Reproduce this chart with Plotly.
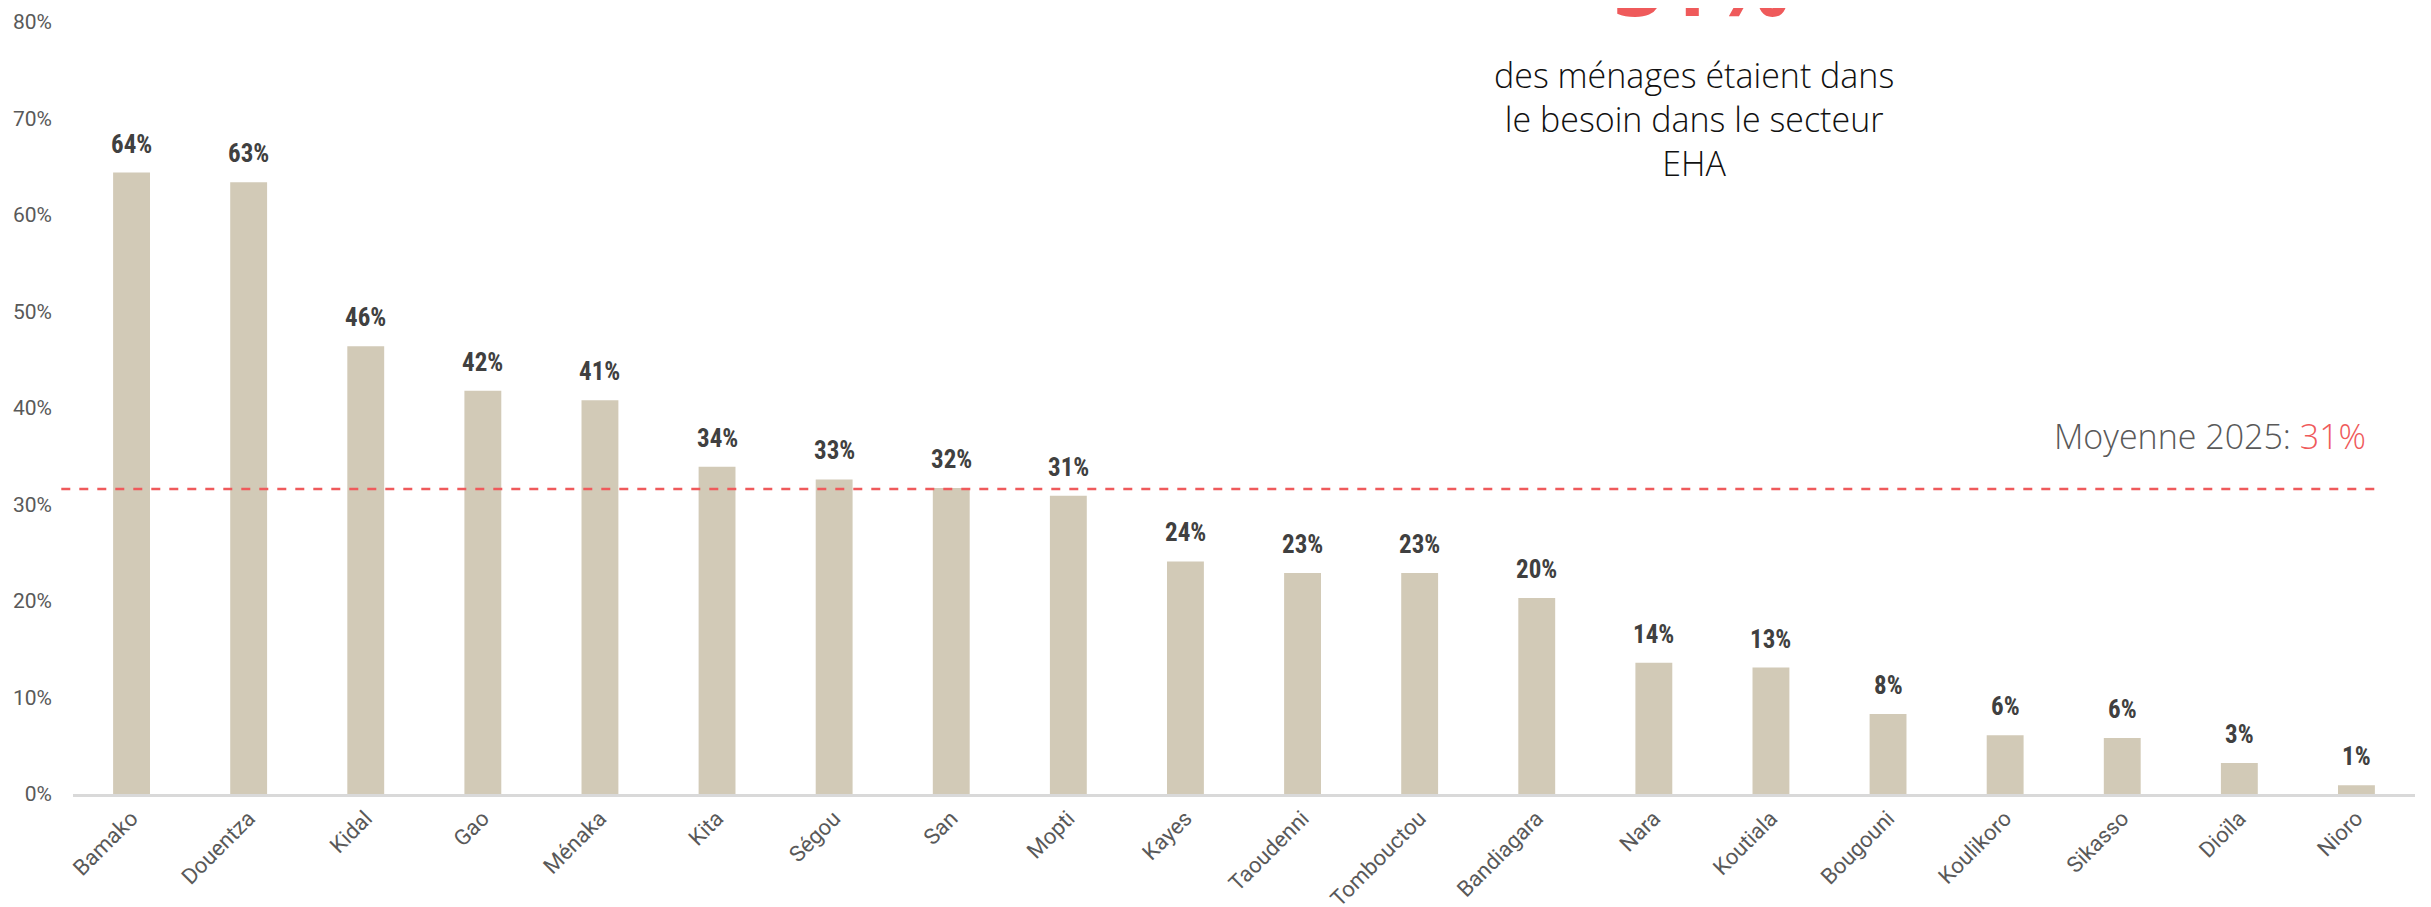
import plotly.graph_objects as go

regions = ["Bamako", "Douentza", "Kidal", "Gao", "Ménaka", "Kita", "Ségou", "San", "Mopti",
           "Kayes", "Taoudenni", "Tombouctou", "Bandiagara", "Nara", "Koutiala", "Bougouni",
           "Koulikoro", "Sikasso", "Dioïla", "Nioro"]
values = [64.4, 63.4, 46.4, 41.8, 40.8, 33.9, 32.6, 31.7, 30.9,
          24.1, 22.9, 22.9, 20.3, 13.6, 13.1, 8.3, 6.1, 5.8, 3.2, 0.9]
labels = ["64%", "63%", "46%", "42%", "41%", "34%", "33%", "32%", "31%",
          "24%", "23%", "23%", "20%", "14%", "13%", "8%", "6%", "6%", "3%", "1%"]
mean_value = 31.6
mean_label = "31%"
y_ticks = [0, 10, 20, 30, 40, 50, 60, 70, 80]
y_ticktext = ["0%", "10%", "20%", "30%", "40%", "50%", "60%", "70%", "80%"]

COND = "Roboto Condensed, Liberation Sans Narrow, DejaVu Sans Condensed, sans-serif"
ROBOTO = "Roboto, sans-serif"
LIGHT = "Open Sans, Segoe UI, Lato, sans-serif"
RED = "#EF5A5B"
BAR = "#D2CAB7"

fig = go.Figure()
fig.add_trace(go.Bar(
    x=regions, y=values, width=0.315,
    marker=dict(color=BAR, line=dict(width=0)),
    hoverinfo="skip",
))

for reg, val, lab in zip(regions, values, labels):
    fig.add_annotation(x=reg, y=val, xref="x", yref="y", text=f"<b>{lab}</b>",
                       showarrow=False, xanchor="center", yanchor="bottom", yshift=12,
                       font=dict(family=COND, size=25, color="#404040"))

fig.add_shape(type="line", xref="paper", yref="y", x0=-0.005, x1=0.985,
              y0=mean_value, y1=mean_value,
              line=dict(color=RED, width=2.5, dash="dash"))

fig.add_annotation(xref="paper", yref="y", x=0.980, y=mean_value + 2.9,
                   xanchor="right", yanchor="bottom", showarrow=False,
                   text=f"Moyenne 2025: <span style='color:{RED}'>{mean_label}</span>",
                   font=dict(family=LIGHT, size=34, color="#595959", weight=300))

fig.add_annotation(xref="paper", yref="paper", x=0.6956, y=0.973, xanchor="center",
                   yanchor="bottom", showarrow=False, text=f"<b>{mean_label}</b>",
                   font=dict(family=LIGHT, size=86, color=RED))

fig.add_annotation(xref="paper", yref="paper", x=0.692, y=0.9637, xanchor="center",
                   yanchor="top", showarrow=False,
                   text="des ménages étaient dans<br>le besoin dans le secteur<br>EHA",
                   font=dict(family=LIGHT, size=34, color="#111111", weight=300))

fig.update_layout(
    width=2431, height=907,
    margin=dict(l=65, r=24, t=14, b=121, autoexpand=False),
    plot_bgcolor="white", paper_bgcolor="white",
    showlegend=False,
    xaxis=dict(showgrid=False, showline=True, linecolor="#D9D9D9", linewidth=2.5,
               automargin=False, tickangle=-45, ticks="",
               tickfont=dict(family=ROBOTO, size=22, color="#595959")),
    yaxis=dict(range=[0, 80], tickvals=y_ticks, ticktext=y_ticktext, showgrid=False,
               automargin=False, zeroline=False, showline=False, ticks="",
               ticklabelstandoff=20,
               tickfont=dict(family=ROBOTO, size=21, color="#595959")),
)

fig.write_html("out.html")
